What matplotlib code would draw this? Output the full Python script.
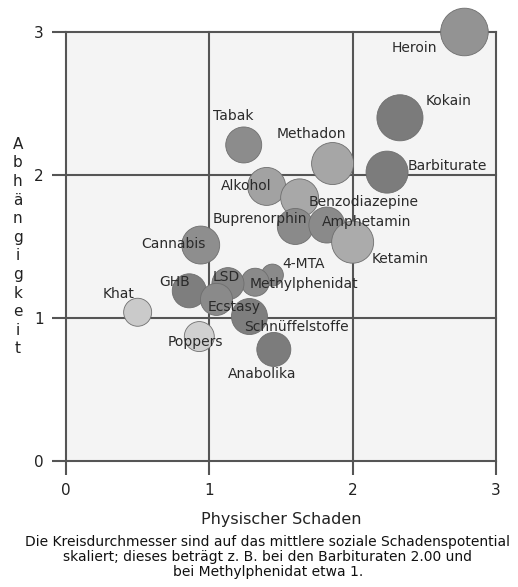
import matplotlib.pyplot as plt

# Daten: physischer Schaden, Abhaengigkeit, sozialer Schaden
drogen = ["Heroin", "Kokain", "Tabak", "Methadon", "Barbiturate", "Alkohol",
          "Benzodiazepine", "Buprenorphin", "Amphetamin", "Ketamin", "Cannabis",
          "4-MTA", "Methylphenidat", "LSD", "GHB", "Ecstasy", "Khat",
          "Schnüffelstoffe", "Poppers", "Anabolika"]
physisch = [2.78, 2.33, 1.24, 1.86, 2.24, 1.40, 1.63, 1.60, 1.82, 2.00, 0.94,
            1.44, 1.32, 1.13, 0.86, 1.05, 0.50, 1.28, 0.93, 1.45]
abhaengig = [3.00, 2.40, 2.21, 2.08, 2.02, 1.92, 1.84, 1.64, 1.65, 1.53, 1.51,
             1.30, 1.25, 1.24, 1.19, 1.13, 1.04, 1.01, 0.87, 0.78]
sozial = [2.40, 2.29, 1.57, 2.00, 2.00, 1.71, 1.71, 1.57, 1.57, 2.00, 1.71,
          0.57, 1.00, 1.29, 1.43, 1.29, 1.00, 1.57, 1.14, 1.43]
grau = ["#939393", "#7b7b7b", "#8c8c8c", "#a6a6a6", "#7c7c7c", "#a2a2a2",
        "#a8a8a8", "#8a8a8a", "#8a8a8a", "#ababab", "#8e8e8e", "#8a8a8a",
        "#8a8a8a", "#858585", "#7e7e7e", "#8a8a8a", "#cacaca", "#7e7e7e",
        "#d0d0d0", "#7c7c7c"]

# Beschriftungen: Versatz relativ zum Kreismittelpunkt
versatz = {
    "Heroin": (-0.35, -0.11), "Kokain": (0.34, 0.12), "Tabak": (-0.07, 0.20),
    "Methadon": (-0.15, 0.21), "Barbiturate": (0.42, 0.04),
    "Alkohol": (-0.14, 0.00), "Benzodiazepine": (0.45, -0.03),
    "Buprenorphin": (-0.25, 0.05), "Amphetamin": (0.28, 0.02),
    "Ketamin": (0.33, -0.12), "Cannabis": (-0.19, 0.01), "4-MTA": (0.22, 0.08),
    "Methylphenidat": (0.34, -0.01), "LSD": (-0.01, 0.05),
    "GHB": (-0.10, 0.06), "Khat": (-0.13, 0.13), "Ecstasy": (0.12, -0.05),
    "Schnüffelstoffe": (0.33, -0.07), "Poppers": (-0.03, -0.04),
    "Anabolika": (-0.08, -0.17),
}

fig = plt.figure(figsize=(5.18, 5.87), dpi=100)
ax = fig.add_axes([0.1274, 0.2147, 0.8301, 0.7308])
ax.set_facecolor("#f4f4f4")
ax.set_xlim(0, 3)
ax.set_ylim(0, 3)

for s in ax.spines.values():
    s.set_visible(False)
ax.set_xticks([0, 1, 2, 3])
ax.set_yticks([0, 1, 2, 3])
ax.tick_params(length=10, width=1.5, color="#555555", labelsize=11,
               labelcolor="#222222")
ax.tick_params(axis="x", pad=6)
ax.tick_params(axis="y", pad=6)
ax.grid(True, color="#555555", linewidth=1.5)
ax.set_axisbelow(True)
for gl in ax.get_xgridlines() + ax.get_ygridlines():
    gl.set_clip_on(False)

# Kreisdurchmesser in Pixeln -> Punkte^2 fuer scatter
groessen = [((14 + 14 * v) * 0.72) ** 2 for v in sozial]
ax.scatter(physisch, abhaengig, s=groessen, c=grau, edgecolors="#6e6e6e",
           linewidths=0.6, zorder=3, clip_on=False)

for name, x, y in zip(drogen, physisch, abhaengig):
    dx, dy = versatz[name]
    ax.text(x + dx, y + dy, name, ha="center", va="center", fontsize=10,
            color="#2a2a2a", zorder=4)

ax.set_xlabel("Physischer Schaden", fontsize=11.5, color="#222222",
              labelpad=10)
fig.text(0.034, 0.58, "\n".join("Abhängigkeit"), ha="center", va="center",
         fontsize=11, color="#222222", linespacing=1.3)

fig.text(0.517, 0.051,
         "Die Kreisdurchmesser sind auf das mittlere soziale Schadenspotential\n"
         "skaliert; dieses beträgt z. B. bei den Barbituraten 2.00 und\n"
         "bei Methylphenidat etwa 1.",
         ha="center", va="center", fontsize=10, color="#111111",
         linespacing=1.12)

fig.savefig("out.png", dpi=100, facecolor="white")
